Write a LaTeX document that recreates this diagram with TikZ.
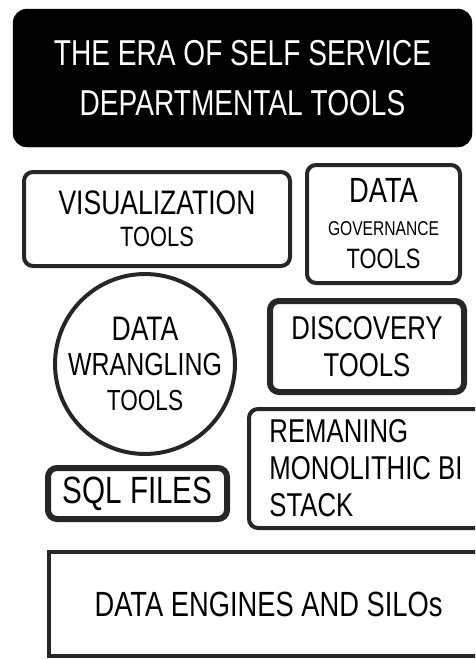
\documentclass[tikz,border=0pt]{standalone}
\usepackage{fontspec}
\setmainfont[FakeStretch=0.78]{Liberation Sans}
\newcommand{\lettersize}[2]{\fontsize{#1}{#2}\selectfont}

\tikzset{tool/.style={draw=black!85,line width=4pt,rounded corners=9pt,inner sep=0pt,align=center},
        heavy/.style={tool,line width=6pt},
        banner/.style={fill=black,draw=black,rounded corners=14pt,text=white,inner sep=0pt,align=center}}

\begin{document}
\begin{tikzpicture}[x=1pt,y=-1pt]
        \useasboundingbox (0,0) rectangle (475,659);
        \clip (0,0) rectangle (475,659);
        \node[banner,minimum width=459pt,minimum height=138pt,font=\lettersize{36}{50}] (T) at (242.5,78) {THE ERA OF SELF SERVICE\\DEPARTMENTAL TOOLS};
        \node[tool,minimum width=266pt,minimum height=94pt,font=\lettersize{34}{32}] (V) at (157,219) {VISUALIZATION\\{\lettersize{28}{32}TOOLS}};
        \node[tool,minimum width=153pt,minimum height=118pt,font=\lettersize{30}{33}] (G) at (383.5,224) {{\lettersize{35}{33}DATA}\\{\lettersize{20}{33}GOVERNANCE}\\{\lettersize{28}{33}TOOLS}};
        \node[tool,shape=circle,minimum size=172pt,font=\lettersize{32}{35}] (W) at (145,364) {{\lettersize{34}{35}DATA}\\WRANGLING\\{\lettersize{29}{35}TOOLS}};
        \node[heavy,minimum width=194pt,minimum height=91pt,font=\lettersize{33}{37}] (D) at (367,346.5) {DISCOVERY\\TOOLS};
        \node[tool,minimum width=234pt,minimum height=119pt,align=left,font=\lettersize{33}{37}] (R) at (366,468.5) {REMANING\\MONOLITHIC BI\\STACK};
        \node[heavy,minimum width=179pt,minimum height=51pt,font=\lettersize{38}{38}] (S) at (137.5,493.5) {SQL FILES};
        \node[tool,rounded corners=0pt,minimum width=439pt,minimum height=104pt,font=\lettersize{35}{35}] (E) at (268.5,604) {DATA ENGINES AND SILOs};
\end{tikzpicture}
\end{document}
